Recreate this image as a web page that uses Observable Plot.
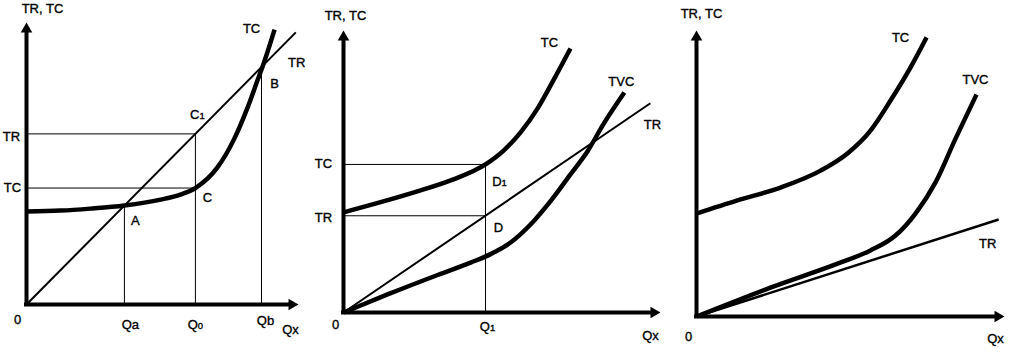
<!DOCTYPE html>
<html><head><meta charset="utf-8">
<script src="https://cdn.jsdelivr.net/npm/d3@7"></script>
<script src="https://cdn.jsdelivr.net/npm/@observablehq/plot@0.6"></script>
<style>
body{margin:0;background:#fff;}
#wrap{position:relative;width:1012px;height:358px;overflow:hidden;background:#fff;}
#wrap svg{position:absolute;top:0;}
</style></head><body><div id="wrap"></div>
<script>
// ---------- Panel 1 data (Q on x, money on y) ----------
const p1TR_q = [0, 9.9];
const p1TR_v = [0, 9.65];
const p1TC_q = [0, 1.25, 2.35, 3.6, 4.93, 5.66, 6.21, 7.02, 7.61, 8.13, 8.49, 8.68, 9.12];
const p1TC_v = [3.30, 3.33, 3.40, 3.51, 3.72, 3.90, 4.13, 4.86, 5.82, 6.99, 7.94, 8.44, 9.75];
const p1Q_names = ["Qa", "Q0", "Qb"];
const p1Q_vals = [3.6, 6.21, 8.64];
const p1Q_tops = [3.51, 6.05, 8.44];
const p1Y_names = ["TR", "TC"];
const p1Y_vals = [6.05, 4.13];
const p1Y_ends = [6.21, 6.21];
const p1Pt_names = ["A", "C1", "C", "B"];
const p1Pt_q = [3.6, 6.21, 6.21, 8.64];
const p1Pt_v = [3.51, 6.05, 4.13, 8.44];

// ---------- Panel 2 data ----------
const p2TR_q = [0, 9.68];
const p2TR_v = [0, 7.42];
const p2TC_q = [0, 1.2, 2.43, 3.47, 4.48, 5.05, 5.58, 6.12, 6.62, 7.16];
const p2TC_v = [3.55, 3.92, 4.33, 4.72, 5.25, 5.74, 6.38, 7.23, 8.23, 9.36];
const p2TVC_q = [0, 1.39, 2.97, 4.01, 4.64, 5.27, 5.90, 6.53, 7.16, 7.70, 8.20, 8.86];
const p2TVC_v = [0, 0.64, 1.33, 1.77, 2.07, 2.48, 3.12, 3.95, 4.90, 5.72, 6.68, 7.80];
const p2Q_names = ["Q1"];
const p2Q_vals = [4.48];
const p2Q_tops = [5.25];
const p2Y_names = ["TC", "TR"];
const p2Y_vals = [5.25, 3.43];
const p2Y_ends = [4.48, 4.48];
const p2Pt_names = ["D1", "D"];
const p2Pt_q = [4.48, 4.48];
const p2Pt_v = [5.25, 3.43];

// ---------- Panel 3 data ----------
const p3TR_q = [0, 9.81];
const p3TR_v = [0, 3.39];
const p3TC_q = [0, 1.33, 2.73, 4.03, 4.90, 5.65, 6.30, 6.95, 7.47];
const p3TC_v = [3.60, 4.06, 4.51, 5.10, 5.70, 6.50, 7.55, 8.71, 9.76];
const p3TVC_q = [0, 2.40, 4.58, 5.65, 6.46, 7.11, 7.76, 8.41, 9.09];
const p3TVC_v = [0, 1.01, 1.85, 2.31, 2.83, 3.60, 4.69, 6.22, 7.76];

// shared axis extent and axis texts
const axisMax = [10, 10];
const axisTitleY = "TR, TC";
const axisTitleX = "Qx";
const originLabel = "0";

// ---------- helpers ----------
const zip = (qs, vs) => qs.map((q, i) => ({q, v: vs[i]}));
const last = (a) => a[a.length - 1];
const FONT = {fontFamily: "'Liberation Sans', Arial, sans-serif", fontSize: 13, fill: "#000", stroke: "#000", strokeWidth: 0.35};
function txt(t, q, v, dx, dy) {
  return Plot.text([{q, v, t}], {x: "q", y: "v", text: "t", dx, dy, textAnchor: "middle", ...FONT});
}
function axes() {
  const [xM, yM] = axisMax;
  return [
    Plot.ruleX([0], {y1: yM, y2: 0, stroke: "#000", strokeWidth: 4, insetTop: 8, insetBottom: -2}),
    Plot.ruleY([0], {x1: 0, x2: xM, stroke: "#000", strokeWidth: 4, insetLeft: -2, insetRight: 8}),
    Plot.dot([{q: 0, v: yM}], {x: "q", y: "v", symbol: "triangle", r: 4.3, fill: "#000", stroke: null, dy: 6.67}),
    Plot.dot([{q: xM, v: 0}], {x: "q", y: "v", symbol: "triangle", r: 4.3, fill: "#000", stroke: null, rotate: 90, dx: -6.67})
  ];
}
function curve(qs, vs, w) {
  return Plot.line(zip(qs, vs), {x: "q", y: "v", curve: "monotone-x", stroke: "#000", strokeWidth: w, strokeLinecap: "butt"});
}
function guides(qVals, qTops, yVals, yEnds) {
  return [
    Plot.ruleX(zip(qVals, qTops), {x: "q", y1: "v", y2: 0, stroke: "#000", strokeWidth: 1}),
    Plot.ruleY(zip(yEnds, yVals), {y: "v", x1: 0, x2: "q", stroke: "#000", strokeWidth: 1})
  ];
}
function panel(left, width, mL, mR, mT, mB, marks) {
  const svg = Plot.plot({
    width, height: 358, marginLeft: mL, marginRight: mR, marginTop: mT, marginBottom: mB,
    x: {domain: [0, axisMax[0]], axis: null},
    y: {domain: [0, axisMax[1]], axis: null},
    style: {background: "transparent", overflow: "visible"},
    marks
  });
  svg.style.left = left + "px";
  // a digit after a letter is drawn smaller (subscript-like)
  svg.querySelectorAll("text").forEach((el) => {
    const m = /^([A-Z])(\d)$/.exec(el.textContent);
    if (m) {
      el.textContent = m[1];
      const ts = document.createElementNS("http://www.w3.org/2000/svg", "tspan");
      ts.setAttribute("font-size", "9.5");
      ts.textContent = m[2];
      el.appendChild(ts);
    }
  });
  document.getElementById("wrap").appendChild(svg);
}

// ---------- Panel 1 ----------
panel(0, 310, 26, 12, 22, 54, [
  ...guides(p1Q_vals, p1Q_tops, p1Y_vals, p1Y_ends),
  curve(p1TR_q, p1TR_v, 2),
  curve(p1TC_q, p1TC_v, 4.5),
  ...axes(),
  txt(axisTitleY, 0, axisMax[1], 16, -14),
  txt(axisTitleX, axisMax[0], 0, -8, 25),
  txt(originLabel, 0, 0, -9, 15),
  txt("TC", last(p1TC_q), last(p1TC_v), -23, -1),
  txt("TR", last(p1TR_q), last(p1TR_v), 1, 30),
  txt(p1Y_names[0], 0, p1Y_vals[0], -15, 3),
  txt(p1Y_names[1], 0, p1Y_vals[1], -14, 0),
  txt(p1Q_names[0], p1Q_vals[0], 0, 6, 20),
  txt(p1Q_names[1], p1Q_vals[1], 0, 0, 20),
  txt(p1Q_names[2], p1Q_vals[2], 0, 4, 16),
  txt(p1Pt_names[0], p1Pt_q[0], p1Pt_v[0], 11, 15),
  txt(p1Pt_names[1], p1Pt_q[1], p1Pt_v[1], 2, -19),
  txt(p1Pt_names[2], p1Pt_q[2], p1Pt_v[2], 12, 10),
  txt(p1Pt_names[3], p1Pt_q[3], p1Pt_v[3], 13, 17)
]);

// ---------- Panel 2 ----------
panel(310, 355, 33, 5, 30, 46, [
  ...guides(p2Q_vals, p2Q_tops, p2Y_vals, p2Y_ends),
  curve(p2TR_q, p2TR_v, 2),
  curve(p2TC_q, p2TC_v, 4.5),
  curve(p2TVC_q, p2TVC_v, 4.5),
  ...axes(),
  txt(axisTitleY, 0, axisMax[1], 2, -15),
  txt(axisTitleX, axisMax[0], 0, -10, 23),
  txt(originLabel, 0, 0, -8, 12),
  txt("TC", last(p2TC_q), last(p2TC_v), -21, -6),
  txt("TVC", last(p2TVC_q), last(p2TVC_v), -3, -11),
  txt("TR", last(p2TR_q), last(p2TR_v), 2, 22),
  txt(p2Y_names[0], 0, p2Y_vals[0], -20, -1),
  txt(p2Y_names[1], 0, p2Y_vals[1], -20, 2),
  txt(p2Q_names[0], p2Q_vals[0], 0, 2, 14),
  txt(p2Pt_names[0], p2Pt_q[0], p2Pt_v[0], 14, 17),
  txt(p2Pt_names[1], p2Pt_q[1], p2Pt_v[1], 13, 12)
]);

// ---------- Panel 3 ----------
panel(665, 347, 31, 8, 30, 42, [
  curve(p3TR_q, p3TR_v, 2.5),
  curve(p3TC_q, p3TC_v, 4.5),
  curve(p3TVC_q, p3TVC_v, 4.5),
  ...axes(),
  txt(axisTitleY, 0, axisMax[1], 5, -17),
  txt(axisTitleX, axisMax[0], 0, -9, 22),
  txt(originLabel, 0, 0, -8, 20),
  txt("TC", last(p3TC_q), last(p3TC_v), -26, 0),
  txt("TVC", last(p3TVC_q), last(p3TVC_v), -1, -15),
  txt("TR", last(p3TR_q), last(p3TR_v), -11, 24)
]);
</script></body></html>
